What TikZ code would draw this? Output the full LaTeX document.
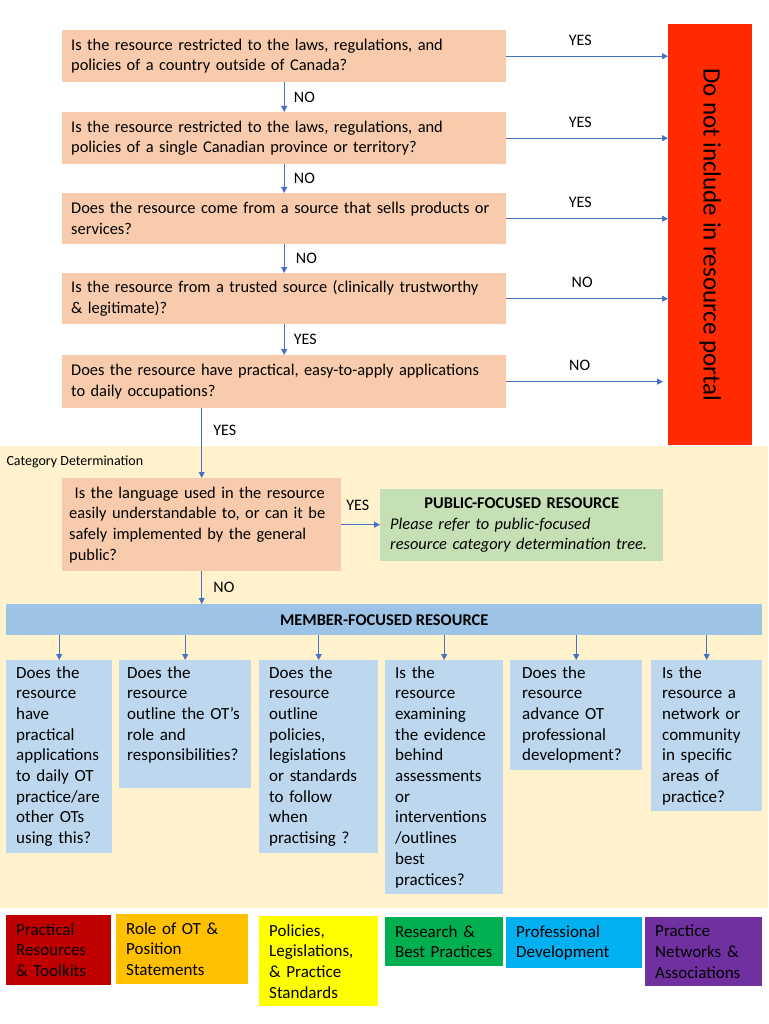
\documentclass[tikz,border=0pt]{standalone}
\usepackage{fontspec}
\setmainfont{Carlito}
\usetikzlibrary{arrows.meta}
\definecolor{peach}{HTML}{F8CBAD}
\definecolor{stopred}{HTML}{FF2A00}
\definecolor{catbg}{HTML}{FFF2CC}
\definecolor{ltblue}{HTML}{BDD7EE}
\definecolor{midblue}{HTML}{9DC3E6}
\definecolor{pubgreen}{HTML}{C5E0B4}
\definecolor{arrblue}{HTML}{4472C4}
\definecolor{catred}{HTML}{C00000}
\definecolor{catorange}{HTML}{FFC000}
\definecolor{catyellow}{HTML}{FFFF00}
\definecolor{catgreen}{HTML}{00B050}
\definecolor{catcyan}{HTML}{00B0F0}
\definecolor{catpurple}{HTML}{7030A0}
\hyphenpenalty=10000
\begin{document}
\begin{tikzpicture}[x=1pt,y=-1pt,
    every node/.style={font=\fontsize{17}{20.7}\selectfont},
    qfont/.style={font=\fontsize{16.4}{20.7}\selectfont},
    qbox/.style={qfont, fill=peach, anchor=north west, align=left, inner xsep=9, text width=426, minimum height=52},
    bq/.style={fill=ltblue, anchor=north west, align=left, inner xsep=10, inner ysep=6},
    catbox/.style={anchor=north west, align=left, inner xsep=10, inner ysep=8},
    arr/.style={arrblue, line width=0.8pt, -{Triangle[length=6pt,width=6pt]}},
    lbl/.style={text=black, font=\fontsize{16}{19}\selectfont}]
    \useasboundingbox (0,0) rectangle (768,1024);
    \fill[catbg] (0,446) rectangle (768,908);
    % screening questions
    \node[qbox] (q1) at (62,30) {Is the resource restricted to the laws, regulations, and\\policies of a country outside of Canada?};
    \node[qbox] (q2) at (62,112) {Is the resource restricted to the laws, regulations, and\\policies of a single Canadian province or territory?};
    \node[qbox, minimum height=51] (q3) at (62,193) {Does the resource come from a source that sells products or\\services?};
    \node[qbox, minimum height=51] (q4) at (62,273) {Is the resource from a trusted source (clinically trustworthy\\\& legitimate)?};
    \node[qbox, minimum height=53] (q5) at (62,355) {Does the resource have practical, easy-to-apply applications\\to daily occupations?};
    \node[fill=stopred, anchor=north west, minimum width=84, minimum height=421] (dnr) at (668,24)
        {\rotatebox{-90}{\fontsize{25}{30}\selectfont Do not include in resource portal}};
    \draw[arr] (q1.east) -- (q1.east -| dnr.west) node[lbl, midway, above=7pt, xshift=-7] (y1) {YES};
    \draw[arr] (q2.east) -- (q2.east -| dnr.west) node[lbl, midway, above=7pt, xshift=-7] (y2) {YES};
    \draw[arr] (q3.east) -- (q3.east -| dnr.west) node[lbl, midway, above=7pt, xshift=-7] (y3) {YES};
    \draw[arr] (q4.east) -- (q4.east -| dnr.west) node[lbl, midway, above=7pt, xshift=-5] (n4) {NO};
    \draw[arr] (q5.east) -- ([xshift=-5]q5.east -| dnr.west) node[lbl, midway, above=7pt, xshift=-5] (n5) {NO};
    \draw[arr] (q1.south) -- (q2.north) node[lbl, midway, right=6pt] (n1) {NO};
    \draw[arr] (q2.south) -- (q3.north) node[lbl, midway, right=6pt] (n2) {NO};
    \draw[arr] (q3.south) -- (q4.north) node[lbl, midway, right=8pt] (n3) {NO};
    \draw[arr] (q4.south) -- (q5.north) node[lbl, midway, right=6pt] (y4) {YES};
    % category determination
    \node[anchor=west, font=\fontsize{14}{16}\selectfont] (cat) at (3,462) {Category Determination};
    \node[qfont, fill=peach, anchor=north west, align=left, inner xsep=7, text width=265, minimum height=93] (lang) at (62,478)
        {\ Is the language used in the resource\\easily understandable to, or can it be\\safely implemented by the general\\public?};
    \node[qfont, fill=pubgreen, anchor=north west, align=left, inner xsep=10, text width=263, minimum height=72] (pub) at (380,489)
        {\makebox[\linewidth][c]{\bfseries PUBLIC-FOCUSED RESOURCE}\\\itshape Please refer to public-focused\\\itshape resource category determination tree.};
    \node[fill=midblue, anchor=north west, minimum width=756, minimum height=31, font=\fontsize{16.4}{20.7}\selectfont\bfseries] (mem) at (6,604) {MEMBER-FOCUSED RESOURCE};
    \draw[arr] (q5.south -| lang.north) -- (lang.north) node[lbl, pos=0.32, right=8pt] (y5) {YES};
    \draw[arr] (lang.east) -- (lang.east -| pub.west) node[lbl, midway, above=10pt, xshift=-3] (y6) {YES};
    \draw[arr] (lang.south) -- (lang.south |- mem.north) node[lbl, midway, right=8pt] (n6) {NO};
    % member-focused questions
    \node[bq, text width=86] (b1) at (6,660) {Does the\\resource\\have\\practical\\applications\\to daily OT\\practice/are\\other OTs\\using this?};
    \node[bq, text width=116, inner xsep=8] (b2) at (119,660) {Does the\\resource\\outline the OT’s\\role and\\responsibilities?\\\mbox{}};
    \node[bq, text width=99] (b3) at (259,660) {Does the\\resource\\outline\\policies,\\legislations\\or standards\\to follow\\when\\practising ?};
    \node[bq, text width=98, inner xsep=10] (b4) at (385,660) {Is the\\resource\\examining\\the evidence\\behind\\assessments\\or\\interventions\\/outlines\\best\\practices?};
    \node[bq, text width=108, inner xsep=12] (b5) at (510,660) {Does the\\resource\\advance OT\\professional\\development?};
    \node[bq, text width=89, inner xsep=11] (b6) at (651,660) {Is the\\resource a\\network or\\community\\in specific\\areas of\\practice?};
    \foreach \b in {b1,b2,b3,b4,b5,b6}
        \draw[arr] (mem.south -| \b.north) -- (\b.north);
    % categories
    \node[catbox, fill=catred, text width=85] (c1) at (6,915) {Practical\\Resources\\\& Toolkits};
    \node[catbox, fill=catorange, text width=112] (c2) at (116,914) {Role of OT \&\\Position\\Statements};
    \node[catbox, fill=catyellow, text width=99] (c3) at (259,916) {Policies,\\Legislations,\\\& Practice\\Standards};
    \node[catbox, fill=catgreen, text width=98] (c4) at (385,917) {Research \&\\Best Practices};
    \node[catbox, fill=catcyan, text width=116] (c5) at (506,917) {Professional\\Development};
    \node[catbox, fill=catpurple, text width=97] (c6) at (645,917) {Practice\\Networks \&\\Associations};
\end{tikzpicture}
\end{document}
